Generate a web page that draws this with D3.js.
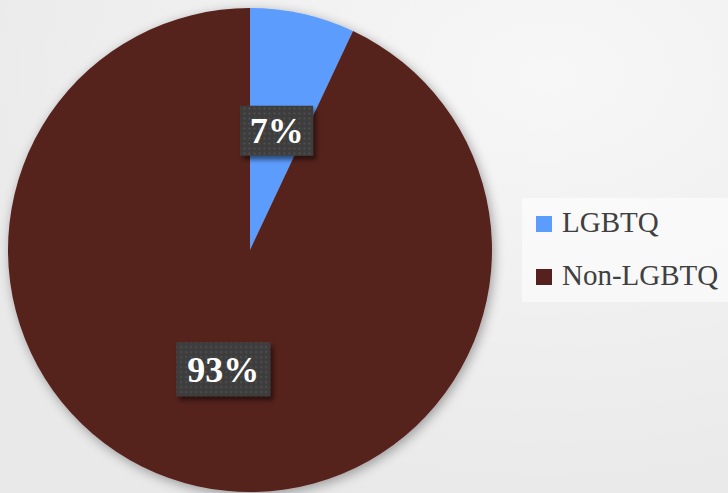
<!DOCTYPE html>
<html>
<head>
<meta charset="utf-8">
<script src="https://d3js.org/d3.v7.min.js"></script>
<style>
  html, body { margin: 0; padding: 0; background: #efefef; }
  svg { display: block; }
</style>
</head>
<body>
<div id="chart"></div>
<script>
// chart data
var categories = ["LGBTQ", "Non-LGBTQ"];
var values = [7, 93];
var colors = ["#5b9cfc", "#55211f"];

var width = 728, height = 493;
var cx = 250, cy = 250, radius = 242;

var svg = d3.select("#chart").append("svg")
  .attr("width", width)
  .attr("height", height);

var defs = svg.append("defs");

// soft background gradient
var bg = defs.append("radialGradient")
  .attr("id", "bg")
  .attr("cx", "75%").attr("cy", "15%").attr("r", "90%");
bg.append("stop").attr("offset", "0%").attr("stop-color", "#f7f7f7");
bg.append("stop").attr("offset", "100%").attr("stop-color", "#e9e9e9");

// pie shadow
var shadow = defs.append("filter").attr("id", "shadow")
  .attr("x", "-20%").attr("y", "-20%").attr("width", "140%").attr("height", "140%");
shadow.append("feGaussianBlur").attr("in", "SourceAlpha").attr("stdDeviation", 6).attr("result", "blur");
shadow.append("feOffset").attr("in", "blur").attr("dx", 2).attr("dy", 3).attr("result", "off");
shadow.append("feComponentTransfer").attr("in", "off").attr("result", "soft")
  .append("feFuncA").attr("type", "linear").attr("slope", 0.35);
var merge = shadow.append("feMerge");
merge.append("feMergeNode").attr("in", "soft");
merge.append("feMergeNode").attr("in", "SourceGraphic");

// small box shadow for labels
var lshadow = defs.append("filter").attr("id", "lshadow")
  .attr("x", "-20%").attr("y", "-20%").attr("width", "150%").attr("height", "160%");
lshadow.append("feGaussianBlur").attr("in", "SourceAlpha").attr("stdDeviation", 2).attr("result", "blur");
lshadow.append("feOffset").attr("in", "blur").attr("dx", 3).attr("dy", 4).attr("result", "off");
lshadow.append("feComponentTransfer").attr("in", "off").attr("result", "soft")
  .append("feFuncA").attr("type", "linear").attr("slope", 0.5);
var lm = lshadow.append("feMerge");
lm.append("feMergeNode").attr("in", "soft");
lm.append("feMergeNode").attr("in", "SourceGraphic");

// dotted label texture
var pat = defs.append("pattern")
  .attr("id", "dots")
  .attr("patternUnits", "userSpaceOnUse")
  .attr("width", 5).attr("height", 5);
pat.append("rect").attr("width", 5).attr("height", 5).attr("fill", "#3e3e3e");
pat.append("rect").attr("x", 2).attr("y", 2).attr("width", 1.4).attr("height", 1.4).attr("fill", "#5a5a5a");

svg.append("rect").attr("width", width).attr("height", height).attr("fill", "url(#bg)");

var pie = d3.pie().sort(null).value(function(d) { return d; });
var arc = d3.arc().innerRadius(0).outerRadius(radius);
var arcs = pie(values);

var g = svg.append("g")
  .attr("transform", "translate(" + cx + "," + cy + ")");

g.append("g").attr("filter", "url(#shadow)")
  .selectAll("path")
  .data(arcs).enter()
  .append("path")
  .attr("d", arc)
  .attr("fill", function(d, i) { return colors[i]; });

// data labels
var labelArc = d3.arc().innerRadius(radius * 0.49).outerRadius(radius * 0.52);
var boxSizes = [[73, 50], [94, 54]];

var labels = g.selectAll(".lbl")
  .data(arcs).enter()
  .append("g")
  .attr("class", "lbl")
  .attr("transform", function(d, i) {
    var p = labelArc.centroid(d);
    return "translate(" + p[0] + "," + p[1] + ")";
  });

labels.append("rect")
  .attr("x", function(d, i) { return -boxSizes[i][0] / 2; })
  .attr("y", function(d, i) { return -boxSizes[i][1] / 2; })
  .attr("width", function(d, i) { return boxSizes[i][0]; })
  .attr("height", function(d, i) { return boxSizes[i][1]; })
  .attr("fill", "url(#dots)")
  .attr("filter", "url(#lshadow)");

labels.append("text")
  .attr("text-anchor", "middle")
  .attr("dy", "0.35em")
  .attr("font-family", "'Liberation Serif', 'DejaVu Serif', serif")
  .attr("font-weight", "bold")
  .attr("font-size", 36)
  .attr("fill", "#ffffff")
  .text(function(d) { return d.data + "%"; });

// legend
var legend = svg.append("g");
legend.append("rect")
  .attr("x", 522).attr("y", 198)
  .attr("width", 206).attr("height", 104)
  .attr("fill", "#ffffff").attr("opacity", 0.55);

var item = legend.selectAll(".item")
  .data(categories).enter()
  .append("g")
  .attr("class", "item")
  .attr("transform", function(d, i) { return "translate(536," + (216 + i * 53) + ")"; });

item.append("rect")
  .attr("width", 16).attr("height", 16)
  .attr("fill", function(d, i) { return colors[i]; });

item.append("text")
  .attr("x", 26).attr("y", 16)
  .attr("font-family", "'Liberation Serif', 'DejaVu Serif', serif")
  .attr("font-size", 29)
  .attr("fill", "#404040")
  .text(function(d) { return d; });
</script>
</body>
</html>
